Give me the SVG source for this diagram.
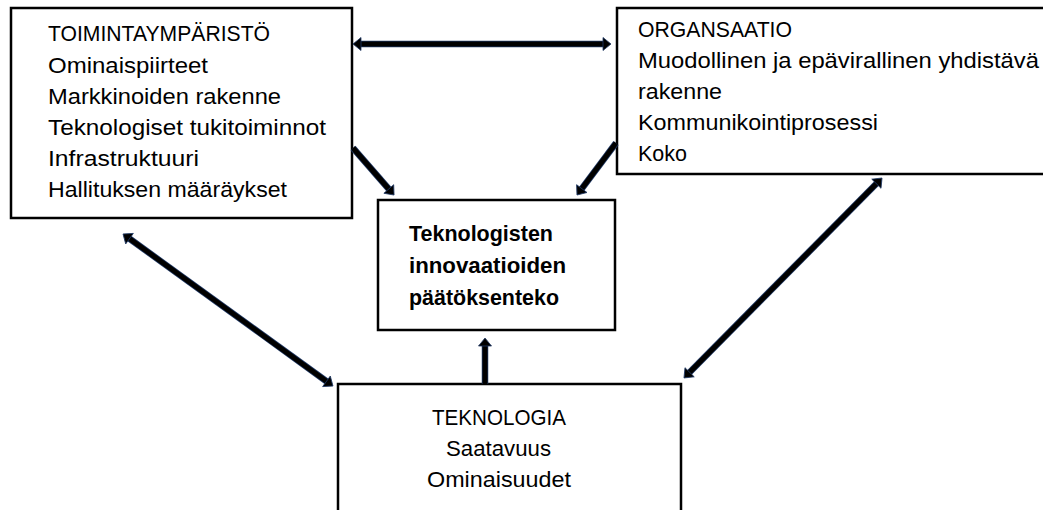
<svg xmlns="http://www.w3.org/2000/svg" width="1043" height="510" viewBox="0 0 1043 510">
<style>
.box{fill:#fff;stroke:#000;stroke-width:2.5}
.t{font-family:"Liberation Sans",Arial,sans-serif;font-size:22px;fill:#000}
.b{font-family:"Liberation Sans",Arial,sans-serif;font-size:22px;font-weight:bold;fill:#000}
.conn{stroke:#000;stroke-width:5;fill:none}
.edge{stroke:#1f3864;stroke-width:6.5;fill:none}
</style>
<defs>
<marker id="ah" markerUnits="userSpaceOnUse" viewBox="-1 -1 10 15" markerWidth="10" markerHeight="15" refX="2" refY="6.5" orient="auto-start-reverse">
<path d="M0,0 L8,6.5 L0,13 z" fill="#000" stroke="#1f3864" stroke-width="0.8"/>
</marker>
</defs>
<rect width="1043" height="510" fill="#fff"/>
<g id="toimintaymparisto">
<rect class="box" x="11" y="8" width="341" height="210"/>
<text class="t" x="48" y="41" textLength="222" lengthAdjust="spacingAndGlyphs">TOIMINTAYMPÄRISTÖ</text>
<text class="t" x="48" y="73" textLength="160" lengthAdjust="spacingAndGlyphs">Ominaispiirteet</text>
<text class="t" x="48" y="104" textLength="233" lengthAdjust="spacingAndGlyphs">Markkinoiden rakenne</text>
<text class="t" x="48" y="135" textLength="278" lengthAdjust="spacingAndGlyphs">Teknologiset tukitoiminnot</text>
<text class="t" x="48" y="166" textLength="151" lengthAdjust="spacingAndGlyphs">Infrastruktuuri</text>
<text class="t" x="48" y="197" textLength="239" lengthAdjust="spacingAndGlyphs">Hallituksen määräykset</text>
</g>
<g id="organisaatio">
<rect class="box" x="617" y="8" width="440" height="166"/>
<text class="t" x="638" y="37" textLength="154" lengthAdjust="spacingAndGlyphs">ORGANSAATIO</text>
<text class="t" x="638" y="68" textLength="401" lengthAdjust="spacingAndGlyphs">Muodollinen ja epävirallinen yhdistävä</text>
<text class="t" x="638" y="99" textLength="84" lengthAdjust="spacingAndGlyphs">rakenne</text>
<text class="t" x="638" y="130" textLength="240" lengthAdjust="spacingAndGlyphs">Kommunikointiprosessi</text>
<text class="t" x="638" y="161" textLength="49" lengthAdjust="spacingAndGlyphs">Koko</text>
</g>
<g id="paatoksenteko">
<rect class="box" x="378" y="200" width="237" height="130"/>
<text class="b" x="409" y="241" textLength="144" lengthAdjust="spacingAndGlyphs">Teknologisten</text>
<text class="b" x="409" y="273" textLength="157" lengthAdjust="spacingAndGlyphs">innovaatioiden</text>
<text class="b" x="409" y="305" textLength="150" lengthAdjust="spacingAndGlyphs">päätöksenteko</text>
</g>
<g id="teknologia">
<rect class="box" x="338" y="384" width="343" height="140"/>
<text class="t" x="432" y="425" textLength="134" lengthAdjust="spacingAndGlyphs">TEKNOLOGIA</text>
<text class="t" x="446" y="456" textLength="105" lengthAdjust="spacingAndGlyphs">Saatavuus</text>
<text class="t" x="427" y="487" textLength="144" lengthAdjust="spacingAndGlyphs">Ominaisuudet</text>
</g>
<g id="connectors">
<g class="edge">
<line x1="359" y1="44" x2="605" y2="44"/>
<line x1="353" y1="148" x2="390.1" y2="190.5"/>
<line x1="616" y1="143" x2="580.6" y2="190.2"/>
<line x1="127.9" y1="237.5" x2="328.1" y2="382.5"/>
<line x1="485" y1="384" x2="485" y2="344"/>
<line x1="877.8" y1="182.3" x2="688.2" y2="373.7"/>
</g>
<line class="conn" x1="359" y1="44" x2="605" y2="44" marker-start="url(#ah)" marker-end="url(#ah)"/>
<line class="conn" x1="353" y1="148" x2="390.1" y2="190.5" marker-end="url(#ah)"/>
<line class="conn" x1="616" y1="143" x2="580.6" y2="190.2" marker-end="url(#ah)"/>
<line class="conn" x1="127.9" y1="237.5" x2="328.1" y2="382.5" marker-start="url(#ah)" marker-end="url(#ah)"/>
<line class="conn" x1="485" y1="384" x2="485" y2="344" marker-end="url(#ah)"/>
<line class="conn" x1="877.8" y1="182.3" x2="688.2" y2="373.7" marker-start="url(#ah)" marker-end="url(#ah)"/>
</g>
</svg>
